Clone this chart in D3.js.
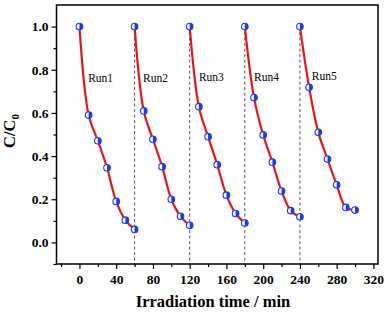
<!DOCTYPE html>
<html><head><meta charset="utf-8">
<script src="https://cdn.jsdelivr.net/npm/d3@7"></script>
<style>body{margin:0;background:#fff}svg{display:block}</style>
</head><body>
<svg id="c" width="390" height="316"></svg>
<script>
const runNames = ["Run1","Run2","Run3","Run4","Run5"];
const runTimes = [
  [0,10,20,30,40,50,60],
  [60,70,80,90,100,110,120],
  [120,130,140,150,160,170,180],
  [180,190,200,210,220,230,240],
  [240,250,260,270,280,290,300]
];
const runValues = [
  [1.0,0.59,0.471,0.346,0.19,0.103,0.06],
  [1.0,0.609,0.478,0.351,0.2,0.121,0.079],
  [1.0,0.629,0.49,0.36,0.219,0.134,0.09],
  [1.0,0.671,0.498,0.372,0.238,0.147,0.119],
  [1.0,0.719,0.51,0.386,0.267,0.162,0.15]
];
const runLabelPos = [[9.5,0.745],[69.3,0.745],[130,0.748],[190,0.75],[253,0.752]];
const dividerTimes = [60,120,180,240];
const xTicks = [0,40,80,120,160,200,240,280,320];
const yTicks = [0.0,0.2,0.4,0.6,0.8,1.0];
const xLabel = "Irradiation time / min";

const svg = d3.select("#c");
const L=56.5,R=378,T=5,B=264;
const x = d3.scaleLinear([-25,325],[L,R]);
const y = d3.scaleLinear([-0.1,1.1],[B,T]);
const serif = "'Liberation Serif','Times New Roman',serif";

// dashed dividers
svg.append("g").selectAll("line").data(dividerTimes).join("line")
  .attr("x1",d=>x(d)).attr("x2",d=>x(d)).attr("y1",y(1.0)).attr("y2",B)
  .attr("stroke","#555").attr("stroke-width",1).attr("stroke-dasharray","3,2.5");

// axes
const xAxis = d3.axisBottom(x).tickValues(xTicks).tickSize(5).tickPadding(5).tickFormat(d3.format("d"));
const xMinor = d3.axisBottom(x).tickValues(d3.range(-20,330,40)).tickSize(3).tickFormat("");
const yAxis = d3.axisLeft(y).tickValues(yTicks).tickSize(5).tickPadding(3).tickFormat(d3.format(".1f"));
const yMinor = d3.axisLeft(y).tickValues([-0.1,0.1,0.3,0.5,0.7,0.9]).tickSize(3).tickFormat("");

function styleAxis(g){
  g.select(".domain").remove();
  g.selectAll("line").attr("stroke","#000").attr("stroke-width",1.2);
  g.selectAll("text").attr("font-family",serif).attr("font-weight","bold").attr("font-size",13.5).attr("fill","#000");
}
svg.append("g").attr("transform",`translate(0,${B})`).call(xAxis).call(styleAxis);
svg.append("g").attr("transform",`translate(0,${B})`).call(xMinor).call(styleAxis);
svg.append("g").attr("transform",`translate(${L},0)`).call(yAxis).call(styleAxis);
svg.append("g").attr("transform",`translate(${L},0)`).call(yMinor).call(styleAxis);

// frame
svg.append("rect").attr("x",L).attr("y",T).attr("width",R-L).attr("height",B-T)
  .attr("fill","none").attr("stroke","#000").attr("stroke-width",1.5);

// lines
const line = d3.line().x(d=>x(d[0])).y(d=>y(d[1])).curve(d3.curveCatmullRom.alpha(0.5));
runTimes.forEach((ts,i)=>{
  const pts = ts.map((t,j)=>[t,runValues[i][j]]);
  svg.append("path").attr("d",line(pts)).attr("fill","none").attr("stroke","#e8141c").attr("stroke-width",2.2);
});
// markers
const r=3.3;
runTimes.forEach((ts,i)=>{
  ts.forEach((t,j)=>{
    const cx=x(t), cy=y(runValues[i][j]);
    svg.append("circle").attr("cx",cx).attr("cy",cy).attr("r",r).attr("fill","#fff").attr("stroke","#1a3cf0").attr("stroke-width",1.1);
    svg.append("path").attr("d",`M${cx},${cy-r} A${r},${r} 0 0 1 ${cx},${cy+r} Z`).attr("fill","#1a3cf0");
  });
});

// run labels
svg.append("g").selectAll("text").data(runNames).join("text")
  .attr("x",(d,i)=>x(runLabelPos[i][0])).attr("y",(d,i)=>y(runLabelPos[i][1]))
  .attr("font-family",serif).attr("font-size",11.5).attr("fill","#000").text(d=>d);

// axis titles
svg.append("text").attr("x",213).attr("y",307).attr("text-anchor","middle")
  .attr("font-family",serif).attr("font-weight","bold").attr("font-size",16.5).text(xLabel);
const yt = svg.append("text").attr("transform","translate(15,131) rotate(-90)").attr("text-anchor","middle")
  .attr("font-family",serif).attr("font-weight","bold").attr("font-size",16.5);
yt.append("tspan").text("C/C");
yt.append("tspan").attr("font-size",11).attr("dy",4).text("0");
</script>
</body></html>
